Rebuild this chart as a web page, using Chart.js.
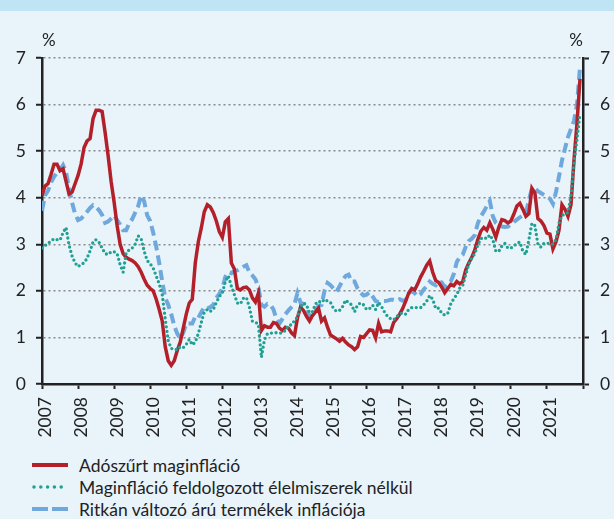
<!DOCTYPE html>
<html>
<head>
<meta charset="utf-8">
<script src="https://cdn.jsdelivr.net/npm/chart.js"></script>
<style>
html, body { margin: 0; padding: 0; }
body { width: 614px; height: 519px; background: #e8f3fa; position: relative; overflow: hidden; font-family: Lato, sans-serif; color: #222; }
.band { position: absolute; left: 0; top: 0; width: 614px; height: 11px; background: #bfe4f4; }
#wrap { position: absolute; left: 0; top: 0; width: 614px; height: 450px; }
.legend { position: absolute; left: 32px; top: 454px; font-size: 17.5px; }
.legend div { display: flex; align-items: center; height: 22px; }
.legend svg { width: 37px; height: 8px; margin-right: 10px; }
</style>
</head>
<body>
<div class="band"></div>
<div id="wrap"><canvas id="chart" width="614" height="450"></canvas></div>
<div class="legend">
  <div><svg viewBox="0 0 37 8"><line x1="0" y1="4" x2="36" y2="4" stroke="#b3202a" stroke-width="4"/></svg>Adószűrt maginfláció</div>
  <div><svg viewBox="0 0 37 8"><line x1="2" y1="4" x2="36" y2="4" stroke="#1fa091" stroke-width="3.5" stroke-linecap="round" stroke-dasharray="0 6.8"/></svg>Maginfláció feldolgozott élelmiszerek nélkül</div>
  <div><svg viewBox="0 0 37 8"><line x1="0" y1="4" x2="36" y2="4" stroke="#6fa8dc" stroke-width="4" stroke-dasharray="16 4"/></svg>Ritkán változó árú termékek inflációja</div>
</div>
<script>
// havi adatok, 2007 január - 2021 december
const startYear = 2007;
const endYear = 2022;
const yTicks = [0, 1, 2, 3, 4, 5, 6, 7];

const seriesNames = [
    'Adószűrt maginfláció',
    'Maginfláció feldolgozott élelmiszerek nélkül',
    'Ritkán változó árú termékek inflációja'
];

const coreTaxAdj = [
    4.05, 4.25, 4.3, 4.5, 4.72, 4.72, 4.58, 4.62, 4.35, 4.08, 4.12, 4.3,
    4.48, 4.72, 5.08, 5.22, 5.27, 5.7, 5.88, 5.88, 5.85, 5.4, 4.9, 4.35,
    3.9, 3.4, 3.0, 2.8, 2.72, 2.68, 2.65, 2.6, 2.52, 2.4, 2.25, 2.12,
    2.05, 2.0, 1.82, 1.6, 1.35, 0.8, 0.5, 0.4, 0.5, 0.72, 0.9, 1.2,
    1.5, 1.74, 1.82, 2.6, 3.05, 3.35, 3.7, 3.85, 3.8, 3.68, 3.5, 3.27,
    3.15, 3.48, 3.55, 2.6, 2.47, 2.05, 2.02, 2.07, 2.08, 2.02, 1.85, 1.76,
    1.95, 1.15, 1.25, 1.22, 1.22, 1.32, 1.3, 1.2, 1.15, 1.22, 1.2, 1.1,
    1.04, 1.42, 1.65, 1.58, 1.45, 1.35, 1.47, 1.55, 1.63, 1.35, 1.42, 1.22,
    1.05, 1.01, 0.97, 0.92, 0.98, 0.9, 0.84, 0.8, 0.74, 0.8, 1.02, 1.0,
    1.08, 1.16, 1.15, 0.99, 1.3, 1.12, 1.14, 1.14, 1.12, 1.32, 1.4, 1.5,
    1.62, 1.78, 1.95, 2.05, 2.02, 2.15, 2.3, 2.42, 2.55, 2.64, 2.4, 2.22,
    2.18, 2.08, 1.96, 2.05, 2.14, 2.11, 2.2, 2.15, 2.2, 2.45, 2.6, 2.72,
    2.88, 3.1, 3.28, 3.36, 3.3, 3.46, 3.32, 3.15, 3.37, 3.53, 3.51, 3.46,
    3.5, 3.65, 3.82, 3.88, 3.75, 3.6, 3.66, 4.2, 4.1, 3.55, 3.5, 3.4,
    3.24, 3.22, 2.9, 3.05, 3.3, 3.85, 3.75, 3.6, 3.85, 4.8, 5.6, 6.55
];

const coreExFood = [
    2.92, 2.97, 3.02, 3.07, 3.12, 3.1, 3.09, 3.25, 3.36, 2.98, 2.75, 2.6,
    2.52, 2.57, 2.6, 2.7, 2.86, 3.05, 3.1, 3.04, 2.92, 2.8, 2.78, 2.84,
    2.84, 2.8, 2.56, 2.4, 2.82, 2.88, 2.92, 3.0, 3.18, 3.12, 2.85, 2.65,
    2.58, 2.49, 2.32, 2.15, 1.92, 1.4, 0.93, 0.76, 0.76, 0.73, 0.8, 0.78,
    0.85, 0.96, 0.84, 0.9, 1.08, 1.32, 1.55, 1.6, 1.56, 1.6, 1.75, 1.88,
    1.95, 2.2, 2.32, 2.1, 1.92, 1.74, 1.72, 1.84, 1.86, 1.65, 1.35, 1.33,
    1.28, 0.57, 0.95, 1.08, 1.09, 1.1, 1.1, 1.09, 1.1, 1.15, 1.26, 1.27,
    1.36, 1.44, 1.65, 1.74, 1.7, 1.53, 1.55, 1.72, 1.78, 1.75, 1.82, 1.78,
    1.75, 1.62, 1.56, 1.58, 1.66, 1.8, 1.75, 1.7, 1.55, 1.7, 1.74, 1.7,
    1.6, 1.62, 1.69, 1.6, 1.75, 1.66, 1.54, 1.45, 1.4, 1.38, 1.45, 1.5,
    1.53, 1.5, 1.6, 1.64, 1.64, 1.64, 1.64, 1.7, 1.78, 1.9, 1.82, 1.62,
    1.63, 1.52, 1.48, 1.52, 1.72, 1.83, 1.92, 2.06, 2.12, 2.35, 2.58, 2.7,
    2.8, 2.98, 3.12, 3.15, 3.12, 3.2, 3.1, 2.85, 2.85, 2.96, 3.02, 2.92,
    2.92, 2.96, 3.02, 3.05, 2.85, 2.78, 3.1, 3.45, 3.4, 3.0, 2.94, 3.02,
    3.02, 3.02, 3.0, 3.1, 3.45, 3.62, 3.65, 3.68, 4.05, 4.75, 5.25, 5.8
];

const stickyPrices = [
    3.72, 4.05, 4.15, 4.33, 4.45, 4.54, 4.6, 4.7, 4.55, 4.2, 3.9, 3.65,
    3.52, 3.55, 3.62, 3.7, 3.78, 3.84, 3.8, 3.73, 3.63, 3.46, 3.49, 3.55,
    3.62, 3.52, 3.42, 3.3, 3.3, 3.45, 3.54, 3.68, 3.82, 4.05, 3.92, 3.62,
    3.5, 3.25, 2.95, 2.6, 2.2, 1.85, 1.7, 1.5, 1.25, 1.08, 0.98, 1.1,
    1.3, 1.3, 1.3, 1.45, 1.42, 1.54, 1.65, 1.62, 1.65, 1.7, 1.85, 1.93,
    2.05, 2.3, 2.4, 2.38, 2.43, 2.44, 2.48, 2.52, 2.55, 2.4, 2.33, 2.25,
    2.08, 1.7, 1.66, 1.72, 1.7, 1.6, 1.4, 1.3, 1.4, 1.5, 1.58, 1.65,
    1.72, 1.95, 1.75, 1.72, 1.55, 1.45, 1.5, 1.57, 1.68, 1.7, 2.0, 2.17,
    2.12, 2.05, 1.98, 2.1, 2.22, 2.32, 2.35, 2.2, 2.2, 2.05, 1.96, 1.9,
    1.92, 1.97, 1.88, 1.78, 1.76, 1.78, 1.78, 1.79, 1.81, 1.81, 1.79, 1.82,
    1.79, 1.8, 1.95, 2.0, 1.95, 1.88, 1.93, 2.03, 2.1, 2.2, 2.15, 2.12,
    2.2, 2.18, 2.08, 2.12, 2.2, 2.36, 2.62, 2.72, 2.78, 2.95, 3.07, 3.12,
    3.2, 3.45, 3.6, 3.7, 3.82, 3.93, 3.6, 3.46, 3.41, 3.38, 3.37, 3.38,
    3.42, 3.48, 3.53, 3.58, 3.62, 3.67, 3.95, 4.2, 4.2, 4.14, 4.1, 4.06,
    4.02, 3.98, 3.87, 4.12, 4.45, 4.8, 5.05, 5.3, 5.48, 5.65, 6.0, 6.8
];

// havi pontok az x tengelyen (év + hónap/12)
function toPoints(values) {
    return values.map((v, i) => ({ x: startYear + i / 12, y: v }));
}

// % felirat a két tengely fölé
const percentLabels = {
    id: 'percentLabels',
    afterDraw(chart) {
        const { ctx, chartArea } = chart;
        ctx.save();
        ctx.font = '17px Lato';
        ctx.fillStyle = '#222';
        ctx.textBaseline = 'middle';
        ctx.textAlign = 'left';
        ctx.fillText('%', chartArea.left, 41);
        ctx.textAlign = 'right';
        ctx.fillText('%', chartArea.right, 41);
        ctx.restore();
    }
};

const tickFont = { family: 'Lato', size: 17.5 };

new Chart(document.getElementById('chart').getContext('2d'), {
    type: 'line',
    data: {
        datasets: [
            {
                label: seriesNames[0],
                data: toPoints(coreTaxAdj),
                borderColor: '#b3202a',
                borderWidth: 3.5,
                pointRadius: 0,
                tension: 0,
                order: 2
            },
            {
                label: seriesNames[1],
                data: toPoints(coreExFood),
                borderColor: '#1fa091',
                borderWidth: 3.3,
                borderDash: [0, 4.6],
                borderCapStyle: 'round',
                pointRadius: 0,
                tension: 0,
                order: 1
            },
            {
                label: seriesNames[2],
                data: toPoints(stickyPrices),
                borderColor: '#6fa8dc',
                borderWidth: 4,
                borderDash: [10, 5],
                pointRadius: 0,
                tension: 0,
                order: 3
            }
        ]
    },
    options: {
        responsive: false,
        animation: false,
        layout: { padding: { top: 58, left: 0, right: 0, bottom: 0 } },
        plugins: {
            legend: { display: false },
            tooltip: { enabled: false }
        },
        scales: {
            x: {
                type: 'linear',
                min: startYear,
                max: endYear,
                afterFit: s => { s.height = 66; },
                ticks: {
                    stepSize: 1,
                    autoSkip: false,
                    minRotation: 90,
                    maxRotation: 90,
                    padding: 8,
                    labelOffset: 3,
                    font: tickFont,
                    color: '#222',
                    callback: v => (v < endYear ? String(v) : '')
                },
                grid: { drawOnChartArea: false, tickLength: 5, tickColor: '#222', tickWidth: 2 },
                border: { color: '#222', width: 2.5 }
            },
            y: {
                position: 'left',
                min: yTicks[0],
                max: yTicks[yTicks.length - 1],
                afterFit: s => { s.width = 42; },
                ticks: { stepSize: 1, padding: 10, font: tickFont, color: '#222' },
                grid: { color: '#8a8a8a', lineWidth: 1.5, tickLength: 6, tickColor: '#222', tickWidth: 2, tickBorderDash: [] },
                border: { color: '#222', width: 2.5, dash: [2, 3] }
            },
            y2: {
                position: 'right',
                min: yTicks[0],
                max: yTicks[yTicks.length - 1],
                afterFit: s => { s.width = 31; },
                ticks: { stepSize: 1, padding: 11, font: tickFont, color: '#222' },
                grid: { drawOnChartArea: false, tickLength: 6, tickColor: '#222', tickWidth: 2 },
                border: { color: '#222', width: 2.5 }
            }
        }
    },
    plugins: [percentLabels]
});
</script>
</body>
</html>
